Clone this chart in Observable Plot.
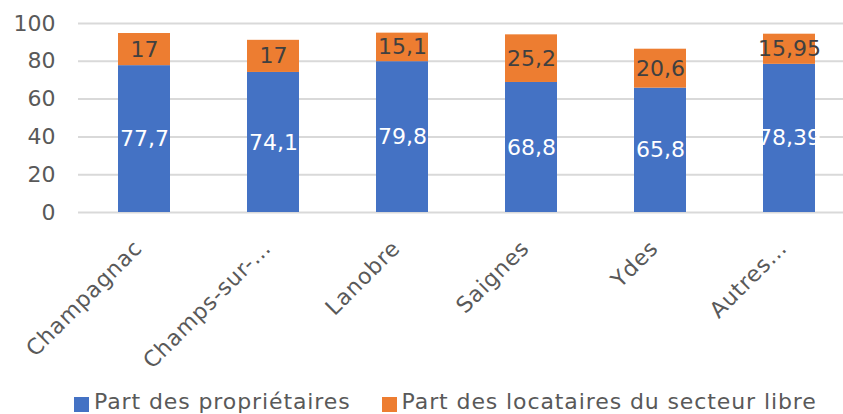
<!DOCTYPE html>
<html>
<head>
<meta charset="utf-8">
<script src="https://cdn.jsdelivr.net/npm/d3@7"></script>
<script src="https://cdn.jsdelivr.net/npm/@observablehq/plot@0.6"></script>
<style>
  html, body { margin: 0; padding: 0; background: #fff; overflow: hidden; width: 843px; height: 414px; }
  #chart { position: relative; width: 843px; height: 414px; overflow: hidden; font-family: "DejaVu Sans", sans-serif; }
  #chart svg { position: absolute; left: 0; top: 0; max-width: none !important; }
  #legend { position: absolute; left: 74px; top: 389px; display: flex; align-items: center; font-size: 22px; letter-spacing: 0.9px; color: #595959; white-space: nowrap; }
  #legend .sw { display: inline-block; width: 15px; height: 15px; margin-right: 5px; margin-top: 5px; }
  #legend .item { display: flex; align-items: center; margin-right: 31px; }
  g[aria-label="x-axis tick label"] text { letter-spacing: 0.8px; }
</style>
</head>
<body>
<div id="chart"></div>
<script>
const categories = ["Champagnac", "Champs-sur-…", "Lanobre", "Saignes", "Ydes", "Autres…"];
const proprietaires = [77.7, 74.1, 79.8, 68.8, 65.8, 78.39];
const locataires = [17, 17, 15.1, 25.2, 20.6, 15.95];
const seriesNames = ["Part des propriétaires", "Part des locataires du secteur libre"];
const colors = ["#4472C4", "#ED7D31"];
const yTicks = [0, 20, 40, 60, 80, 100];

const rows = [];
categories.forEach((c, i) => {
  rows.push({cat: c, series: seriesNames[0], value: proprietaires[i]});
  rows.push({cat: c, series: seriesNames[1], value: locataires[i]});
});
const fmt = v => String(v).replace(".", ",");

const plot = Plot.plot({
  width: 855,
  height: 380,
  marginLeft: 78,
  marginRight: 0,
  marginTop: 23,
  marginBottom: 168,
  style: {fontFamily: "DejaVu Sans, sans-serif", fontSize: "22px", color: "#595959", background: "transparent", overflow: "visible", maxWidth: "none"},
  x: {domain: categories, paddingInner: 0.6, paddingOuter: 0.3, label: null},
  y: {domain: [0, 100], ticks: yTicks, label: null, tickSize: 0, tickPadding: 23},
  color: {domain: seriesNames, range: colors},
  marks: [
    Plot.ruleY(yTicks, {stroke: "#d9d9d9", strokeWidth: 2}),
    Plot.barY(rows, {x: "cat", y: "value", fill: "series", order: seriesNames}),
    Plot.text(rows, Plot.stackY({x: "cat", y: "value", z: "series", order: seriesNames,
      text: d => fmt(d.value),
      fill: d => d.series === seriesNames[0] ? "#ffffff" : "#404040",
      fontSize: 22})),
    Plot.axisX({tickSize: 0, tickRotate: -45, tickPadding: 32, dx: -6, label: null})
  ]
});
document.getElementById("chart").appendChild(plot);

const legend = document.createElement("div");
legend.id = "legend";
seriesNames.forEach((s, i) => {
  const it = document.createElement("span");
  it.className = "item";
  const sw = document.createElement("span");
  sw.className = "sw";
  sw.style.background = colors[i];
  it.appendChild(sw);
  it.appendChild(document.createTextNode(s));
  legend.appendChild(it);
});
document.getElementById("chart").appendChild(legend);
</script>
</body>
</html>
